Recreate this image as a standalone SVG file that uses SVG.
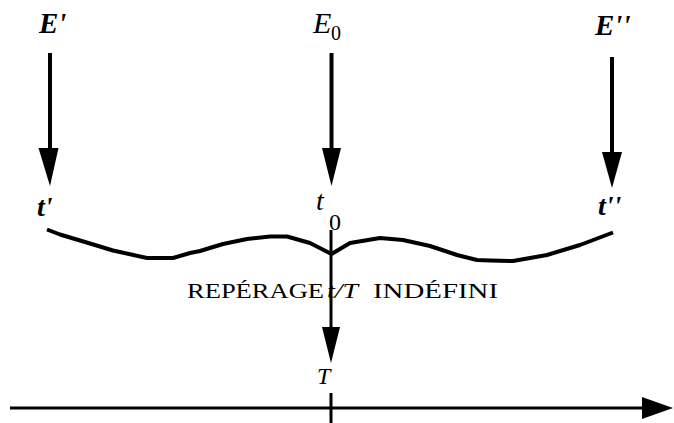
<svg xmlns="http://www.w3.org/2000/svg" width="674" height="423" viewBox="0 0 674 423">
<style>
.lbl{font-family:"Liberation Serif","Times New Roman",serif;fill:#000}
.bi{font-weight:bold;font-style:italic}
.it{font-style:italic}
.ln{stroke:#000;fill:none;stroke-linecap:butt}
.hd{fill:#000;stroke:none}
</style>
<rect width="674" height="423" fill="#fff"/>
<g id="connectors">
  <line class="ln" x1="50" y1="53" x2="50" y2="150" stroke-width="4"/>
  <polygon class="hd" points="38.5,148 58.5,148 50,186"/>
  <line class="ln" x1="331.5" y1="53" x2="331.5" y2="150" stroke-width="4"/>
  <polygon class="hd" points="322,148 341,148 331.5,186"/>
  <line class="ln" x1="612" y1="57" x2="612" y2="154" stroke-width="4"/>
  <polygon class="hd" points="602,152 622,152 612,188"/>
  <polyline class="ln" stroke-width="4" stroke-linejoin="round" stroke-linecap="round" points="47,229.5 60,234.5 90,243.5 113,250.5 147,258 173,258 190,253 200,251 223,244 247,239 270,236.5 287,236.5 310,243 331.5,254 350,243 380,238 403,240 430,246 457,255 477,260 490,260.5 513,261 547,255 580,245 613,232.5"/>
  <line class="ln" x1="331" y1="230" x2="331" y2="330" stroke-width="3"/>
  <polygon class="hd" points="322,327 340,327 331,363"/>
  <line class="ln" x1="10" y1="408" x2="645" y2="408" stroke-width="3"/>
  <polygon class="hd" points="642,397 642,419 673,408"/>
  <line class="ln" x1="331" y1="393" x2="331" y2="423" stroke-width="3"/>
</g>
<g id="E1"><text class="lbl bi" x="39" y="33" font-size="29">E'</text></g>
<g id="E0"><text class="lbl it" x="313" y="33" font-size="30">E</text><text class="lbl" x="331" y="40" font-size="20">0</text></g>
<g id="E2"><text class="lbl bi" x="595" y="35" font-size="29">E''</text></g>
<g id="t1"><text class="lbl bi" x="37" y="216" font-size="28">t'</text></g>
<g id="t0"><text class="lbl it" x="316" y="210" font-size="28">t</text><text class="lbl" x="329" y="230" font-size="24">0</text></g>
<g id="t2"><text class="lbl bi" x="598" y="215" font-size="28">t''</text></g>
<g id="label">
  <text class="lbl" x="187" y="298" font-size="21" textLength="137" lengthAdjust="spacingAndGlyphs">REPÉRAGE</text>
  <text class="lbl it" x="327" y="298" font-size="21" textLength="31" lengthAdjust="spacingAndGlyphs">t/T</text>
  <text class="lbl" x="373" y="298" font-size="21" textLength="125" lengthAdjust="spacingAndGlyphs">INDÉFINI</text>
</g>
<g id="T"><text class="lbl it" x="317" y="384" font-size="24">T</text></g>
</svg>
